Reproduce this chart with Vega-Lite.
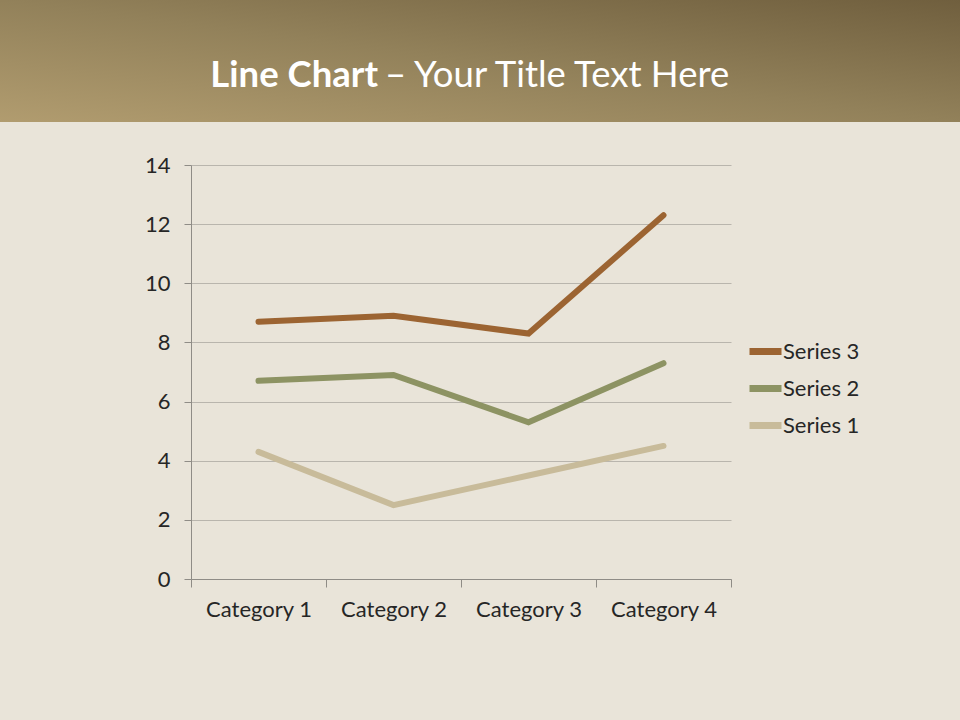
{
  "$schema": "https://vega.github.io/schema/vega-lite/v6.json",
  "background": "#e9e4d9",
  "padding": {"left": 0, "top": 0, "right": 0, "bottom": 100},
  "spacing": 32,
  "config": {
    "font": "Lato",
    "view": {"stroke": null},
    "axis": {
      "labelFont": "Lato",
      "labelFontSize": 22,
      "labelColor": "#262626",
      "domainColor": "#8f8c86",
      "tickColor": "#8f8c86",
      "gridColor": "#b9b5ad",
      "title": null
    },
    "legend": {
      "labelFont": "Lato",
      "labelFontSize": 22,
      "labelColor": "#262626"
    }
  },
  "vconcat": [
    {
      "width": 960,
      "height": 122,
      "view": {
        "stroke": null,
        "fill": {
          "gradient": "linear",
          "x1": 0, "y1": 1, "x2": 1, "y2": 0,
          "stops": [
            {"offset": 0, "color": "#b19c6f"},
            {"offset": 0.5, "color": "#92815a"},
            {"offset": 1, "color": "#705f3e"}
          ]
        }
      },
      "data": {"values": [{"bold": "Line Chart", "rest": "– Your Title Text Here"}]},
      "layer": [
        {
          "mark": {"type": "text", "align": "right", "baseline": "middle", "dx": -102, "dy": 15, "fontSize": 36.5, "fontWeight": "bold", "color": "#ffffff", "font": "Lato"},
          "encoding": {"text": {"field": "bold"}}
        },
        {
          "mark": {"type": "text", "align": "left", "baseline": "middle", "dx": -95, "dy": 15, "fontSize": 36.5, "fontWeight": "normal", "color": "#ffffff", "font": "Lato"},
          "encoding": {"text": {"field": "rest"}}
        }
      ]
    },
    {
      "spacing": 0,
      "hconcat": [
        {
          "width": 131,
          "height": 414,
          "data": {"values": []},
          "mark": "text",
          "encoding": {}
        },
        {
          "width": 540,
          "height": 414,
          "data": {
            "values": [
              {"category": "Category 1", "series": "Series 1", "value": 4.3},
              {"category": "Category 2", "series": "Series 1", "value": 2.5},
              {"category": "Category 3", "series": "Series 1", "value": 3.5},
              {"category": "Category 4", "series": "Series 1", "value": 4.5},
              {"category": "Category 1", "series": "Series 2", "value": 6.7},
              {"category": "Category 2", "series": "Series 2", "value": 6.9},
              {"category": "Category 3", "series": "Series 2", "value": 5.3},
              {"category": "Category 4", "series": "Series 2", "value": 7.3},
              {"category": "Category 1", "series": "Series 3", "value": 8.7},
              {"category": "Category 2", "series": "Series 3", "value": 8.9},
              {"category": "Category 3", "series": "Series 3", "value": 8.3},
              {"category": "Category 4", "series": "Series 3", "value": 12.3}
            ]
          },
          "mark": {"type": "line", "strokeWidth": 6, "strokeCap": "round", "strokeJoin": "miter"},
          "encoding": {
            "x": {
              "field": "category",
              "type": "nominal",
              "scale": {"type": "band", "paddingInner": 0, "paddingOuter": 0},
              "axis": {"labelAngle": 0, "tickBand": "extent", "tickSize": 8, "labelPadding": 12, "grid": false, "domainWidth": 1}
            },
            "y": {
              "field": "value",
              "type": "quantitative",
              "scale": {"domain": [0, 14]},
              "axis": {"values": [0, 2, 4, 6, 8, 10, 12, 14], "tickSize": 7, "labelPadding": 14, "grid": true, "minExtent": 60, "maxExtent": 60}
            },
            "color": {
              "field": "series",
              "type": "nominal",
              "scale": {"domain": ["Series 3", "Series 2", "Series 1"], "range": ["#9c6432", "#8d9363", "#c8bb9a"]},
              "legend": {
                "title": null,
                "orient": "none",
                "legendX": 746,
                "legendY": 332,
                "symbolType": "stroke",
                "symbolSize": 1024,
                "symbolStrokeWidth": 7,
                "labelOffset": -2,
                "rowPadding": 3
              }
            }
          }
        }
      ]
    }
  ]
}
